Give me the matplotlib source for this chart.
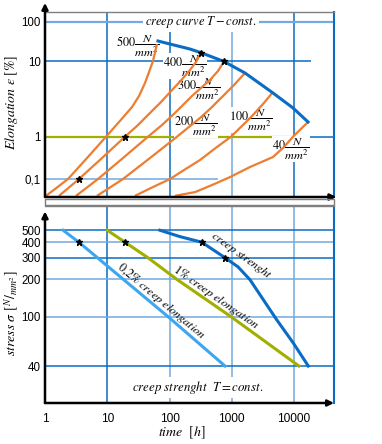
import numpy as np
import matplotlib.pyplot as plt
from matplotlib.patches import Rectangle

plt.rcParams['mathtext.fontset'] = 'stix'
plt.rcParams['font.family'] = ['Liberation Sans', 'DejaVu Sans']

# colours
ORANGE = '#ed7d31'
BLUE = '#0a6cc4'
LIGHT = '#74aade'
GREEN = '#a3ae00'
SKY = '#3ea6f0'
GRAY = '#7f7f7f'

# ---- top chart: creep curves, elongation [%] over time [h] ----
t500 = [1.04, 1.56, 2.34, 4.73, 9.55, 16.0, 25, 32.4, 40.4, 46.9, 54.3, 63]
e500 = [0.04, 0.063, 0.1, 0.313, 1, 1.62, 2.48, 3.48, 5.18, 7.24, 10.3, 27.7]
t400 = [1.68, 2.43, 3.51, 8.24, 19.3, 31.2, 48.6, 73, 110, 153, 213, 267, 321]
e400 = [0.04, 0.063, 0.1, 0.313, 1, 1.43, 2.07, 2.89, 4.18, 5.59, 7.71, 9.84,
        16.7]
t300 = [3.15, 4.73, 7.1, 17.9, 45.1, 75.8, 122.5, 230, 447, 601, 751]
e300 = [0.04, 0.063, 0.1, 0.313, 1, 1.43, 2.07, 3.48, 5.68, 7.47, 10]
t200 = [6.84, 11.07, 17.9, 48.6, 132, 206, 309, 464, 697, 1087, 1633]
e200 = [0.04, 0.063, 0.1, 0.313, 1, 1.35, 1.77, 2.41, 3.37, 4.87, 7.03]
t100 = [27.9, 52.4, 102, 177, 309, 538, 972, 1461, 2113, 3177, 4600]
e100 = [0.04, 0.063, 0.1, 0.168, 0.281, 0.526, 1, 1.39, 1.88, 2.72, 3.93]
t40 = [122.5, 257, 482, 937, 1964, 4600, 6905, 9640, 16800]
e40 = [0.04, 0.049, 0.072, 0.111, 0.192, 0.331, 0.571, 1, 1.57]
curves = [(t500, e500), (t400, e400), (t300, e300),
          (t200, e200), (t100, e100), (t40, e40)]

# rupture line (end points of the creep curves)
t_rupt = [65.3, 213, 321, 751, 1633, 4600, 9640, 16800]
e_rupt = [33, 20.7, 16.7, 10, 7.03, 3.81, 2.41, 1.57]

# marked points
t_star_top = [3.51, 19.3, 321, 751]
e_star_top = [0.1, 1, 16.7, 10]

# ---- bottom chart: stress over time ----
t_02 = [1.95, 3.5, 95, 780]
s_02 = [500, 400, 100, 40]
t_1 = [10, 19.3, 45, 132, 975, 12000]
s_1 = [500, 400, 300, 200, 100, 40]
t_cs = [70, 147, 330, 779, 1260, 1964, 5275, 9750, 16970]
s_cs = [500, 444, 400, 300, 253, 199, 94.5, 61.3, 40]
t_star_bot = [3.5, 19.3, 330, 779]
s_star_bot = [400, 400, 400, 300]

x_ticks = [1, 10, 100, 1000, 10000]
x_labels = ['1', '10', '100', '1000', '10000']
top_ticks = [0.1, 1, 10, 100]
top_labels = ['0,1', '1', '10', '100']
bot_ticks = [40, 100, 200, 300, 400, 500]
bot_labels = ['40', '100', '200', '300', '400', '500']

# schematic (non-uniform) elongation axis
L_NODES = [-3, -1, 0, 1, 2, 4]
H_NODES = [-66.6, 18, 60.3, 135.5, 175, 254]


def fwd(e):
    return np.interp(np.log10(np.maximum(e, 1e-9)), L_NODES, H_NODES)


def inv(h):
    return 10 ** np.interp(h, H_NODES, L_NODES)


W, H = 382, 444
fig = plt.figure(figsize=(W / 100, H / 100), dpi=100)


def box(l, t, r, b):
    return [l / W, 1 - b / H, (r - l) / W, (b - t) / H]


XMAX = 10 ** (289 / 62.25)

ax1 = fig.add_axes(box(45, 12, 334, 197))
ax2 = fig.add_axes(box(45, 205.5, 334, 403))

for ax in (ax1, ax2):
    ax.set_xscale('log')
    ax.set_xlim(1, XMAX)
    ax.spines['left'].set_visible(False)
    ax.spines['bottom'].set_visible(False)
    ax.spines['top'].set_color(GRAY)
    ax.spines['top'].set_linewidth(1.0)
    ax.spines['right'].set_color(BLUE)
    ax.spines['right'].set_linewidth(1.5)
    ax.tick_params(length=0, labelsize=8)
    ax.minorticks_off()

# top axes
ax1.set_yscale('function', functions=(fwd, inv))
ax1.set_ylim(inv(0), inv(185))
ax1.set_xticks(x_ticks)
ax1.set_xticklabels([])
ax1.set_yticks(top_ticks)
ax1.set_yticklabels(top_labels)
ax1.tick_params(axis='y', pad=3, labelsize=8.3)
ax1.minorticks_off()

for t, c in zip([10, 100, 1000, 10000], [BLUE, BLUE, LIGHT, BLUE]):
    ax1.axvline(t, color=c, lw=1.1, zorder=1)
ax1.hlines(100, 1, XMAX, color=LIGHT, lw=1.6, zorder=1)
ax1.hlines(10, 1, 18700, color=BLUE, lw=1.1, zorder=1)
ax1.hlines(1, 1, XMAX, color=BLUE, lw=1.1, zorder=1)
ax1.hlines(1, 1, 9600, color=GREEN, lw=1.6, zorder=1.5)
ax1.hlines(0.1, 1, 600, color=LIGHT, lw=1.1, zorder=1)

for t, e in curves:
    ax1.plot(t, e, color=ORANGE, lw=1.6, zorder=3, solid_capstyle='butt')
ax1.plot(t_rupt, e_rupt, color=BLUE, lw=2.2, zorder=3)
ax1.plot(t_star_top, e_star_top, '*', color='black', ms=5, zorder=5)

lab = dict(fontsize=8.8, va='center', ha='left', zorder=2,
           bbox=dict(fc='white', ec='none', pad=0.2))
ax1.text(13.8, 24.7, r'$500\dfrac{N}{mm^2}$', **lab)
ax1.text(78.5, 8.7, r'$400\dfrac{N}{mm^2}$', **lab)
ax1.text(132, 4.2, r'$300\dfrac{N}{mm^2}$', **lab)
ax1.text(118, 1.43, r'$200\dfrac{N}{mm^2}$', **lab)
ax1.text(907, 1.67, r'$100\dfrac{N}{mm^2}$', **lab)
ax1.text(4435, 0.51, r'$40\dfrac{N}{mm^2}$', **lab)
ax1.text(322, 100, r'$creep\ curve\ T - const.$', fontsize=9,
         ha='center', va='center', zorder=2,
         bbox=dict(fc='white', ec='none', pad=1.5))

# bottom axes
ax2.set_yscale('log')
ax2.set_ylim(20.1, 792)
ax2.set_xticks(x_ticks)
ax2.set_xticklabels(x_labels)
ax2.set_yticks(bot_ticks)
ax2.set_yticklabels(bot_labels)
ax2.tick_params(axis='x', pad=7, labelsize=8.6)
ax2.tick_params(axis='y', pad=3, labelsize=8.3)
ax2.minorticks_off()

for t, c in zip([10, 100, 1000, 10000], [BLUE, LIGHT, LIGHT, LIGHT]):
    ax2.axvline(t, color=c, lw=1.1, zorder=1)
for s, c in zip(bot_ticks, [BLUE, LIGHT, LIGHT, BLUE, LIGHT, BLUE]):
    ax2.axhline(s, color=c, lw=1.1, zorder=1)

ax2.plot(t_02, s_02, color=SKY, lw=2.2, zorder=3)
ax2.plot(t_1, s_1, color=GREEN, lw=2.2, zorder=3)
ax2.plot(t_cs, s_cs, color=BLUE, lw=2.2, zorder=3)
ax2.plot(t_star_bot, s_star_bot, '*', color='black', ms=5, zorder=5)

rot = dict(fontsize=8.8, ha='center', va='center', rotation_mode='anchor',
           zorder=4)
ax2.text(75.8, 134.5, r'$0{,}2\%\ creep\ elongation$', rotation=-40, **rot)
ax2.text(560, 145, r'$1\%\ creep\ elongation$', rotation=-35, **rot)
ax2.text(1410, 310, r'$creep\ strenght$', rotation=-36, **rot)
ax2.text(287, 26.7, r'$creep\ strenght\ \ T = const.$', fontsize=9.3,
         ha='center', va='center', zorder=2,
         bbox=dict(fc='white', ec='none', pad=1.5))

# arrow axes
arr = dict(arrowstyle='-|>', color='black', lw=1.8, mutation_scale=9,
           shrinkA=0, shrinkB=0)
ax1.annotate('', xy=(0, 1.049), xytext=(0, 0), xycoords='axes fraction',
             arrowprops=arr, annotation_clip=False)
ax1.annotate('', xy=(1.008, 0), xytext=(0, 0), xycoords='axes fraction',
             arrowprops=arr, annotation_clip=False)
ax2.annotate('', xy=(0, 0.97), xytext=(0, 0), xycoords='axes fraction',
             arrowprops=arr, annotation_clip=False)
ax2.annotate('', xy=(1.0, 0), xytext=(0, 0), xycoords='axes fraction',
             arrowprops=arr, annotation_clip=False)

# gray strip between the panels
fig.add_artist(Rectangle((45 / W, 1 - 205.5 / H), 289 / W, 6 / H,
                         transform=fig.transFigure, fill=False,
                         ec=GRAY, lw=1.0))

fig.text(12 / W, 1 - 103 / H, r'$Elongation\ \varepsilon\ [\%]$',
         rotation=90, ha='center', va='center', fontsize=10)
fig.text(12 / W, 1 - 313 / H, r'$stress\ \sigma\ [{}^{N}/_{mm^2}]$',
         rotation=90, ha='center', va='center', fontsize=10)
fig.text(182 / W, 1 - 433 / H, r'$time\ \ [h]$',
         ha='center', va='center', fontsize=10)

fig.savefig('out.png', dpi=100)
